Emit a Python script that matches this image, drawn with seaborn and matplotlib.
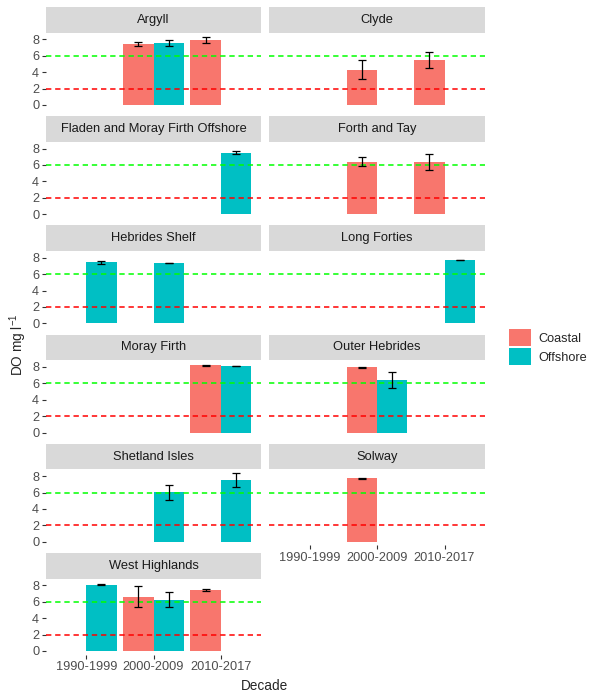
import matplotlib
matplotlib.use("Agg")
import pandas as pd
import matplotlib.pyplot as plt
import seaborn as sns
from matplotlib.patches import Patch
from matplotlib.container import BarContainer


regions = ["Argyll", "Clyde", "Fladen and Moray Firth Offshore", "Forth and Tay",
           "Hebrides Shelf", "Long Forties", "Moray Firth", "Outer Hebrides",
           "Shetland Isles", "Solway", "West Highlands"]
decades = ["1990-1999", "2000-2009", "2010-2017"]
site_types = ["Coastal", "Offshore"]
palette = {"Coastal": "#F8766D", "Offshore": "#00BFC4"}

# one entry per bar (mean DO and error half-width)
bar_region = ["Argyll", "Argyll", "Argyll",
              "Clyde", "Clyde",
              "Fladen and Moray Firth Offshore",
              "Forth and Tay", "Forth and Tay",
              "Hebrides Shelf", "Hebrides Shelf",
              "Long Forties",
              "Moray Firth", "Moray Firth",
              "Outer Hebrides", "Outer Hebrides",
              "Shetland Isles", "Shetland Isles",
              "Solway",
              "West Highlands", "West Highlands", "West Highlands", "West Highlands"]
bar_decade = ["2000-2009", "2000-2009", "2010-2017",
              "2000-2009", "2010-2017",
              "2010-2017",
              "2000-2009", "2010-2017",
              "1990-1999", "2000-2009",
              "2010-2017",
              "2010-2017", "2010-2017",
              "2000-2009", "2000-2009",
              "2000-2009", "2010-2017",
              "2000-2009",
              "1990-1999", "2000-2009", "2000-2009", "2010-2017"]
bar_type = ["Coastal", "Offshore", "Coastal",
            "Coastal", "Coastal",
            "Offshore",
            "Coastal", "Coastal",
            "Offshore", "Offshore",
            "Offshore",
            "Coastal", "Offshore",
            "Coastal", "Offshore",
            "Offshore", "Offshore",
            "Coastal",
            "Offshore", "Coastal", "Offshore", "Coastal"]
do_mean = [7.44, 7.56, 7.93,
           4.27, 5.49,
           7.47,
           6.37, 6.37,
           7.48, 7.36,
           7.72,
           8.20, 8.08,
           7.96, 6.37,
           6.06, 7.52,
           7.76,
           8.08, 6.61, 6.24, 7.47]
do_err = [0.25, 0.37, 0.37,
          1.16, 1.03,
          0.18,
          0.55, 0.98,
          0.18, 0.03,
          0.05,
          0.06, 0.02,
          0.08, 0.98,
          0.91, 0.85,
          0.08,
          0.04, 1.27, 0.90, 0.14]

df = pd.DataFrame({"region": bar_region, "decade": bar_decade, "type": bar_type,
                   "do": do_mean, "err": do_err})

sns.set_style("white")
plt.rcParams["font.family"] = ["Liberation Sans", "DejaVu Sans"]
plt.rcParams["mathtext.default"] = "regular"

W, H = 600, 700
fig = plt.figure(figsize=(W / 100, H / 100), dpi=100)

col_left = [46, 269]
col_width = [215, 216]
row_pitch = 109.2
strip_h = 25.5

for i, reg in enumerate(regions):
    r, c = divmod(i, 2)
    strip_top = 7 + row_pitch * r
    strip_bot = strip_top + strip_h
    panel_bot = strip_top + 101.6

    ax = fig.add_axes([col_left[c] / W, 1 - panel_bot / H,
                       col_width[c] / W, (panel_bot - strip_bot) / H])
    sax = fig.add_axes([col_left[c] / W, 1 - strip_bot / H,
                        col_width[c] / W, strip_h / H])

    sub = df[df["region"] == reg]
    sns.barplot(data=sub, x="decade", y="do", hue="type", order=decades,
                hue_order=site_types, palette=palette, width=0.9, dodge=True,
                errorbar=None, legend=False, saturation=1,
                edgecolor="none", linewidth=0, ax=ax)

    # error bars placed on the bars seaborn drew
    bars = [b for cont in list(ax.containers) if isinstance(cont, BarContainer)
            for b in cont if b is not None]
    for bar in bars:
        cx = bar.get_x() + bar.get_width() / 2
        k = int(round(cx))
        t = site_types[0] if cx < k else site_types[1]
        row = sub[(sub["decade"] == decades[k]) & (sub["type"] == t)]
        if len(row) == 0:
            continue
        ax.errorbar(cx, row["do"].iloc[0], yerr=row["err"].iloc[0],
                    fmt="none", ecolor="black", elinewidth=0.9,
                    capsize=2.6, capthick=0.9, zorder=4)

    ax.axhline(6, color="#00FF00", linestyle=(0, (3.5, 2.5)), linewidth=1.1, zorder=3)
    ax.axhline(2, color="#FF0000", linestyle=(0, (3.5, 2.5)), linewidth=1.1, zorder=3)

    ax.set_xlim(-0.6, 2.6)
    ax.set_ylim(-0.44, 8.84)
    ax.set_yticks([0, 2, 4, 6, 8])
    ax.set_xlabel("")
    ax.set_ylabel("")
    for s in ax.spines.values():
        s.set_visible(False)
    ax.tick_params(axis="both", length=2.9, width=0.8, color="#333333",
                   labelcolor="#4D4D4D", labelsize=9.2, pad=2)

    if c == 1:
        ax.tick_params(axis="y", left=False, labelleft=False)
    else:
        ax.tick_params(axis="y", left=True)
    if reg in ("West Highlands", "Solway"):
        ax.tick_params(axis="x", bottom=True, labelbottom=True)
    else:
        ax.tick_params(axis="x", bottom=False, labelbottom=False)

    sax.set_facecolor("#D9D9D9")
    sax.set_xticks([])
    sax.set_yticks([])
    for s in sax.spines.values():
        s.set_visible(False)
    sax.text(0.5, 0.5, reg, ha="center", va="center", fontsize=9.3,
             color="#1A1A1A", transform=sax.transAxes)

fig.text(18 / W, 1 - 345 / H, "DO mg l$^{-1}$", rotation=90,
         ha="center", va="center", fontsize=9.8)
fig.text(265 / W, 1 - 686 / H, "Decade", ha="center", va="center", fontsize=9.8)

handles = [Patch(facecolor=palette[t], edgecolor="none") for t in site_types]
fig.legend(handles, site_types, loc="center left",
           bbox_to_anchor=(497 / W, 1 - 347 / H), frameon=False,
           fontsize=9.2, handlelength=1.75, handleheight=1.75,
           labelspacing=0.1, handletextpad=0.6)

fig.savefig("out.png", dpi=100)
